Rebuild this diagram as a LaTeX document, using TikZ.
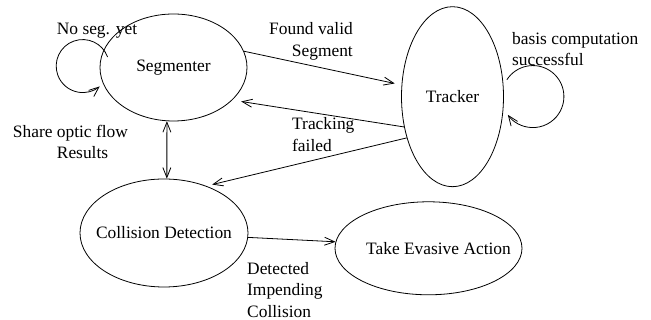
\documentclass[tikz,border=0pt]{standalone}
\usepackage{fontspec}
\setmainfont{Liberation Serif}
\usetikzlibrary{shapes.geometric,arrows.meta,calc}
\newcommand\zwbox[1]{\makebox[0pt]{#1}}
\begin{document}
\begin{tikzpicture}[x=1pt,y=1pt,
  every node/.style={font=\fontsize{17.4}{21.5}\selectfont},
  state/.style={draw, ellipse, inner sep=0pt, line width=0.8pt},
  lbl/.style={inner sep=0pt},
  arr/.style={line width=0.8pt, -{Straight Barb[length=10pt,width=8pt]}},
  darr/.style={line width=0.8pt, {Straight Barb[length=10pt,width=8pt]}-{Straight Barb[length=10pt,width=8pt]}}]
\useasboundingbox (0,0) rectangle (651,320);
\node[state, minimum width=147pt, minimum height=107pt] (seg) at (173.5,252.5) {\zwbox{Segmenter}};
\node[state, minimum width=102pt, minimum height=180pt] (trk) at (452.5,223.3) {\zwbox{Tracker}};
\node[state, minimum width=168pt, minimum height=108pt] (col) at (164,87) {\zwbox{Collision Detection}};
\node[state, minimum width=187pt, minimum height=93pt] (eva) at (428.5,71.7) {\zwbox{\hspace{20pt}Take Evasive Action}};
% labels
\node[lbl] (l1) at (97,289) {No seg. yet};
\node[lbl, anchor=east, align=right] (l2) at (353,278.7) {Found valid\\Segment};
\node[lbl, anchor=west, align=left] (l3) at (292,185.5) {Tracking\\failed};
\node[lbl, anchor=west, align=left] (l4) at (512,271) {basis computation\\successful};
\node[lbl, anchor=west, align=left] (l5) at (12.7,177.8) {Share optic flow\\\hspace*{44pt}Results};
\node[lbl, anchor=west, align=left] (l6) at (247,30) {Detected\\Impending\\Collision};
% connectors
\draw[arr, shorten >=7pt] (seg.13) -- (trk.167);
\draw[arr, shorten >=9pt] (trk.212) -- (seg.331);
\draw[arr, shorten >=6pt] (trk.222) -- (col.48);
\draw[darr] (seg.263) -- (col.87);
\draw[arr] (col.357) -- (eva.176);
% self loops
\draw[arr] ($(seg.west)+(8,10.5)$) arc[start angle=20, end angle=310, radius=26.5];
\draw[arr] ($(trk.east)+(3,17)$) arc[start angle=147, end angle=-144, radius=31];
\end{tikzpicture}
\end{document}
